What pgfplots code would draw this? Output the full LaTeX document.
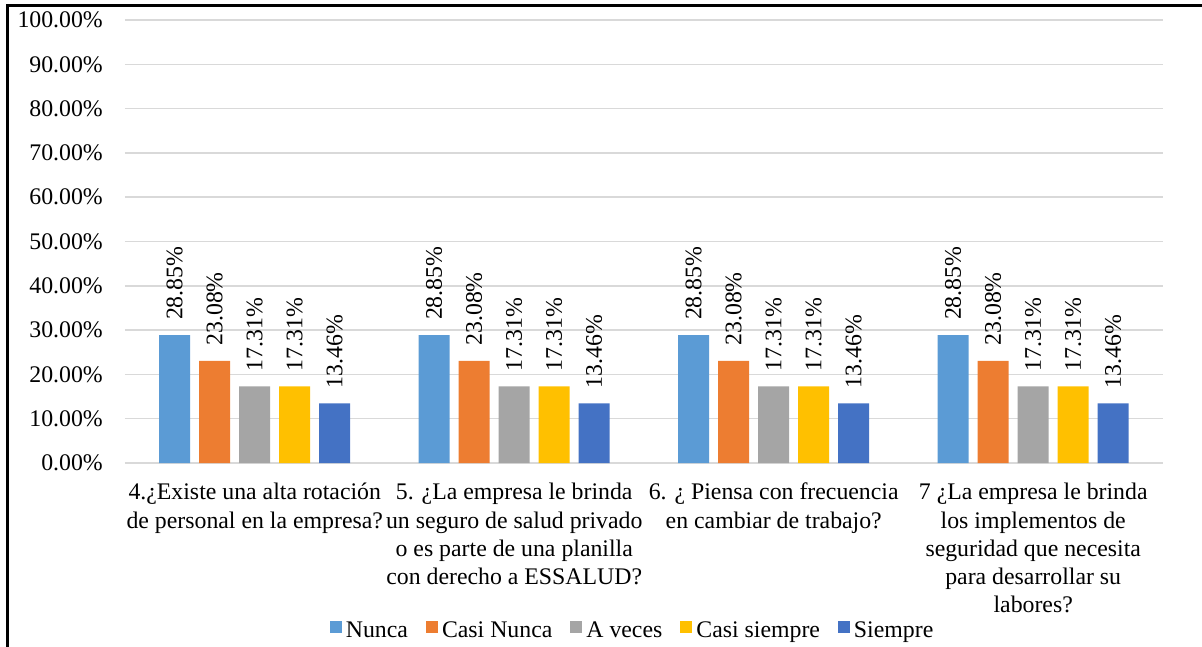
\documentclass[border=0pt]{standalone}
\usepackage{fontspec}
\setmainfont{Liberation Serif}
\newfontfamily\tnr{Liberation Serif}
\usepackage{pgfplots}
\pgfplotsset{compat=1.18}
\definecolor{cNunca}{HTML}{5B9BD5}
\definecolor{cCasiNunca}{HTML}{ED7D31}
\definecolor{cAveces}{HTML}{A5A5A5}
\definecolor{cCasiSiempre}{HTML}{FFC000}
\definecolor{cSiempre}{HTML}{4472C4}
\definecolor{gridgray}{HTML}{D9D9D9}
\newcommand{\cf}{\tnr\fontsize{23.8}{28.3}\selectfont}
\begin{document}
\begin{tikzpicture}
\begin{axis}[
  at={(125pt,-463pt)}, anchor=south west,
  scale only axis, width=1038pt, height=443pt,
  ybar=9pt, bar width=31pt,
  xmin=-0.5, xmax=3.5, ymin=0, ymax=100,
  xtick={0,1,2,3},
  xticklabels={{4.¿Existe una alta rotación\\de personal en la empresa?},
               {5. ¿La empresa le brinda\\un seguro de salud privado\\o es parte de una planilla\\con derecho a ESSALUD?},
               {6. ¿ Piensa con frecuencia\\en cambiar de trabajo?},
               {7 ¿La empresa le brinda\\los implementos de\\seguridad que necesita\\para desarrollar su\\labores?}},
  ytick={0,10,...,100},
  /pgf/number format/assume math mode=true,
  yticklabel={\pgfmathprintnumber[fixed,fixed zerofill,precision=2]{\tick}\%},
  ymajorgrids, major grid style={draw=gridgray, line width=1.5pt},
  axis line style={draw=none},
  major tick length=0pt, tick style={draw=none},
  xticklabel style={align=center, font=\cf, anchor=north, inner sep=0pt, yshift=-20pt},
  yticklabel style={font=\cf, anchor=east, inner sep=0pt, xshift=-22pt},
  nodes near coords={\pgfmathprintnumber[fixed,fixed zerofill,precision=2]{\pgfplotspointmeta}\%},
  every node near coord/.append style={rotate=90, anchor=west, font=\cf, inner xsep=15pt, inner ysep=0pt, text=black},
  legend style={at={(0.49,-0.377)}, anchor=center, draw=none, legend columns=5, font=\cf,
    nodes={inner xsep=4pt, inner ysep=0pt},
    /tikz/every even column/.append style={column sep=14pt}},
  legend image code/.code={\fill[#1] (0pt,-3pt) rectangle (12pt,9pt);},
]
\addplot[fill=cNunca, draw=none] coordinates {(0,28.85) (1,28.85) (2,28.85) (3,28.85)};
\addplot[fill=cCasiNunca, draw=none] coordinates {(0,23.08) (1,23.08) (2,23.08) (3,23.08)};
\addplot[fill=cAveces, draw=none] coordinates {(0,17.31) (1,17.31) (2,17.31) (3,17.31)};
\addplot[fill=cCasiSiempre, draw=none] coordinates {(0,17.31) (1,17.31) (2,17.31) (3,17.31)};
\addplot[fill=cSiempre, draw=none] coordinates {(0,13.46) (1,13.46) (2,13.46) (3,13.46)};
\legend{Nunca, Casi Nunca, A veces, Casi siempre, Siempre}
\end{axis}
\draw[line width=3pt] (1202pt,-5.5pt) -- (7.5pt,-5.5pt) -- (7.5pt,-647pt);
\pgfresetboundingbox
\useasboundingbox (0,0) rectangle (1202pt,-647pt);
\end{tikzpicture}
\end{document}
